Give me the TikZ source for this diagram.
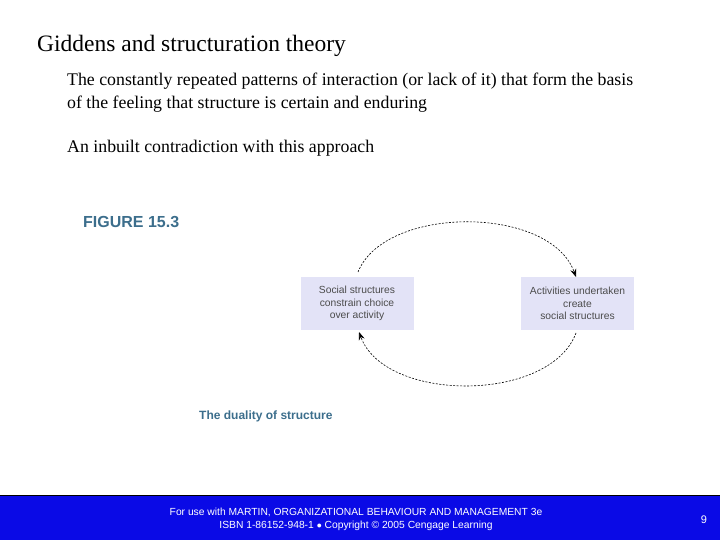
\documentclass[tikz,border=0pt]{standalone}
\usepackage{fontspec}
\setmainfont{Liberation Serif}
\newfontfamily\arial{Liberation Sans}
\usetikzlibrary{arrows.meta}
\definecolor{figc}{HTML}{3C6E8C}
\definecolor{boxc}{HTML}{E3E3F7}
\definecolor{barc}{HTML}{0A0AE6}
\tikzset{sbox/.style={fill=boxc,minimum width=113pt,minimum height=53pt,inner sep=0pt,align=center,font=\arial\fontsize{10.3}{12.5}\selectfont,text=black!70},
cyc/.style={dash pattern=on 2pt off 1.5pt,line width=0.6pt,-{Stealth[length=8pt,width=6pt]}},
txtl/.style={anchor=base west,inner sep=0pt}}
\begin{document}
\begin{tikzpicture}[x=1pt,y=-1pt]
\useasboundingbox (0,0) rectangle (720,540);
\node[txtl,font=\fontsize{23.5}{26}\selectfont] (t) at (37,52) {Giddens and structuration theory};
\node[txtl,font=\fontsize{17.8}{21}\selectfont] (b1) at (67,86) {The constantly repeated patterns of interaction (or lack of it) that form the basis};
\node[txtl,font=\fontsize{17.8}{21}\selectfont] (b2) at (67,109) {of the feeling that structure is certain and enduring};
\node[txtl,font=\fontsize{17.8}{21}\selectfont] (b3) at (67,153) {An inbuilt contradiction with this approach};
\node[txtl,font=\arial\bfseries\fontsize{16}{18}\selectfont,text=figc] (fig) at (83,228) {FIGURE 15.3};
\node[txtl,font=\arial\bfseries\fontsize{12}{14}\selectfont,text=figc] (cap2) at (199,419) {The duality of structure};
\node[sbox] (L) at (357,303.5) {Social structures\\constrain choice\\over activity};
\node[sbox] (R) at (577.5,303.5) {Activities undertaken\\create\\social structures};
\draw[cyc] (358,272) .. controls (385,205) and (550,205) .. (576,277);
\draw[cyc] (576,333) .. controls (550,403) and (385,403) .. (359,332);
\fill[barc] (0,495) rectangle (720,540);
\draw[black,line width=1pt] (0,495.5) -- (720,495.5);
\node[font=\arial\fontsize{10.3}{13}\selectfont,text=white,align=center] (f) at (356,519) {For use with MARTIN, ORGANIZATIONAL BEHAVIOUR AND MANAGEMENT 3e\\ISBN 1-86152-948-1 $\bullet$ Copyright \textcopyright\ 2005 Cengage Learning};
\node[font=\arial\fontsize{11}{12}\selectfont,text=white] (n) at (704,520) {9};
\end{tikzpicture}
\end{document}
